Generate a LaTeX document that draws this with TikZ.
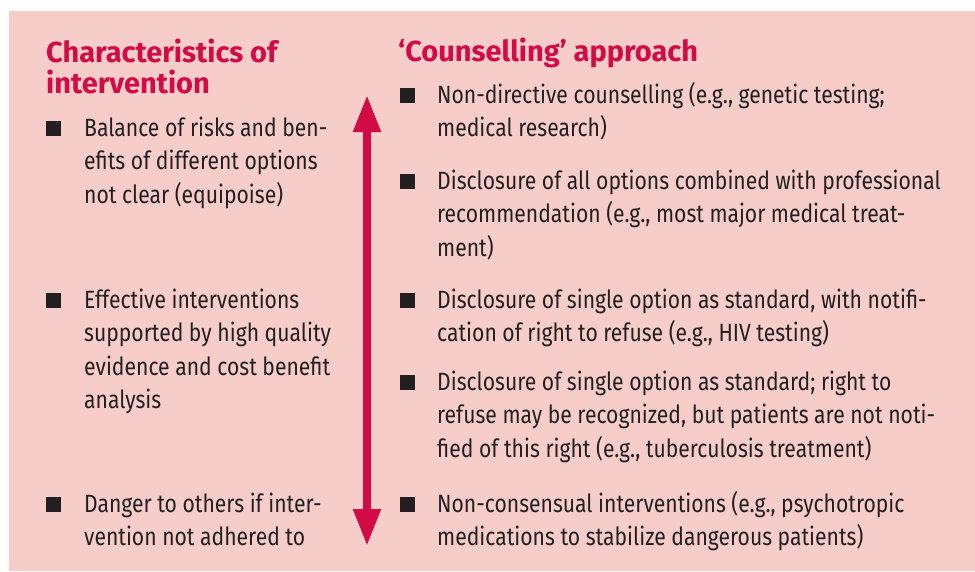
\documentclass[tikz,border=0pt]{standalone}
\usepackage{fontspec}
\setmainfont{Fira Sans}[FakeStretch=0.845]
\newfontfamily\headfont{Fira Sans}
\usepackage{tikz}
\usetikzlibrary{arrows.meta}
\definecolor{boxpink}{RGB}{246,205,200}
\definecolor{headred}{RGB}{210,10,70}
\definecolor{bodygray}{RGB}{35,31,32}
\tikzset{>={Triangle[width=26pt,length=37pt]}}
\tikzset{
  headtext/.style={anchor=base west, inner sep=0pt, align=left, text=headred,
    font=\headfont\fontsize{29}{31}\selectfont\bfseries},
  itemtext/.style={anchor=base west, inner sep=0pt, align=left, text=bodygray,
    font=\fontsize{25}{33.5}\selectfont},
  bulletbox/.style={anchor=south west, fill=bodygray, inner sep=0pt, minimum size=15pt},
}

\begin{document}
\begin{tikzpicture}[x=1pt, y=-1pt]

  \newcommand\XA{46};
  \newcommand\XB{84};
  \newcommand\XC{400};
  \newcommand\XD{437};
  \newcommand\LS{33.5};

  \useasboundingbox (0,0) rectangle (975,571);
  \fill[boxpink] (9,11) rectangle (975,571);

  % left column (node base = baseline of last line)
  \node[headtext] (lhead) at (\XA, 62+31) {Characteristics of\\intervention};

  \node[bulletbox] (lb1) at (\XA, 136) {};
  \node[itemtext] (lt1) at (\XB, 136+2*\LS) {Balance of risks and ben-\\efits of different options\\not clear (equipoise)};
  \node[bulletbox] (lb2) at (\XA, 308) {};
  \node[itemtext] (lt2) at (\XB, 308+3*\LS) {Effective interventions\\supported by high quality\\evidence and cost benefit\\analysis};
  \node[bulletbox] (lb3) at (\XA, 512) {};
  \node[itemtext] (lt3) at (\XB, 512+\LS) {Danger to others if inter-\\vention not adhered to};

  % scale arrow
  \coordinate (top) at (367, 95);
  \coordinate (bot) at (367, 546);
  \draw[<->, headred, line width=8pt] (top) -- (bot);

  % right column
  \node[headtext] (rhead) at (398, 61) {‘Counselling’ approach};

  \node[bulletbox] (rb1) at (\XC, 103) {};
  \node[itemtext] (rt1) at (\XD, 103+\LS) {Non-directive counselling (e.g., genetic testing;\\medical research)};
  \node[bulletbox] (rb2) at (\XC, 189) {};
  \node[itemtext] (rt2) at (\XD, 189+2*\LS) {Disclosure of all options combined with professional\\recommendation (e.g., most major medical treat-\\ment)};
  \node[bulletbox] (rb3) at (\XC, 308) {};
  \node[itemtext] (rt3) at (\XD, 308+\LS) {Disclosure of single option as standard, with notifi-\\cation of right to refuse (e.g., HIV testing)};
  \node[bulletbox] (rb4) at (\XC, 390) {};
  \node[itemtext] (rt4) at (\XD, 390+2*\LS) {Disclosure of single option as standard; right to\\refuse may be recognized, but patients are not noti-\\fied of this right (e.g., tuberculosis treatment)};
  \node[bulletbox] (rb5) at (\XC, 512) {};
  \node[itemtext] (rt5) at (\XD, 512+\LS) {Non-consensual interventions (e.g., psychotropic\\medications to stabilize dangerous patients)};

\end{tikzpicture}
\end{document}
